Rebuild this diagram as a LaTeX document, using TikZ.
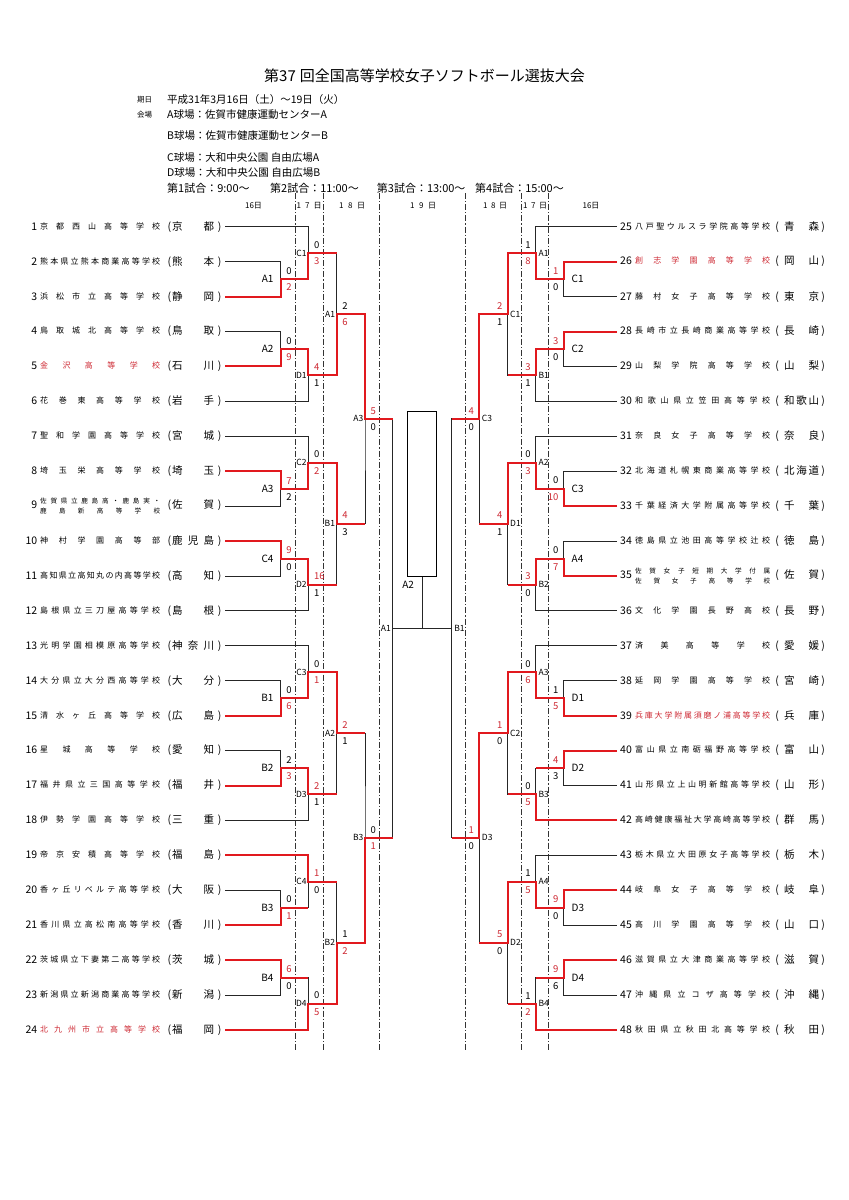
\documentclass[tikz,border=0pt]{standalone}
\usepackage{fontspec}
\setmainfont{Noto Sans CJK JP}
\usepackage{tikz}
\usetikzlibrary{calc}
\definecolor{winline}{RGB}{225,25,30}
\definecolor{wintext}{RGB}{205,40,50}

% row position of team i (may be fractional)
\newcommand\ry[1]{226.8+(#1-1)*34.92}
\newcommand\numf{\fontsize{10.5}{12}\selectfont}
\newcommand\namef{\fontsize{8}{9}\selectfont}
\newcommand\twof{\fontsize{6.6}{10}\selectfont}
\newcommand\preff{\fontsize{10.5}{12}\selectfont}
\newcommand\rs[1]{\textcolor{wintext}{#1}}
% spread the characters of a text over a given width
\def\spreadfirst#1{#1\spreadaux}
\def\spreadaux#1{\ifx#1\relax\else\hfill#1\expandafter\spreadaux\fi}
\newcommand\spreadtxt[2]{\hbox to #1{\expandafter\spreadfirst#2\relax}}
% team rows
\newcommand\tleft[4][black]{\hbox to 13pt{\hfil\numf #2}\hskip3pt\raisebox{1pt}{\namef\color{#1}\spreadtxt{120pt}{#3}}\preff\hbox to 12pt{\hfil(\hskip1pt}\spreadtxt{42pt}{#4}\hbox to 11pt{\hfil)\hfil}\hskip3pt}
\newcommand\tlefttwo[4]{\hbox to 13pt{\hfil\numf #1}\hskip3pt$\vcenter{\twof\hbox{\spreadtxt{120pt}{#2}}\hbox{\spreadtxt{120pt}{#3}}}$\preff\hbox to 12pt{\hfil(\hskip1pt}\spreadtxt{42pt}{#4}\hbox to 11pt{\hfil)\hfil}\hskip3pt}
\newcommand\tright[4][black]{\hskip3pt\hbox to 12pt{\numf #2\hfil}\hskip3pt\raisebox{1pt}{\namef\color{#1}\spreadtxt{135pt}{#3}}\preff\hbox to 14pt{\hfil(\hfil}\spreadtxt{35pt}{#4}\hbox to 8pt{\hfil)\hfil}}
\newcommand\trighttwo[4]{\hskip3pt\hbox to 12pt{\numf #1\hfil}\hskip3pt$\vcenter{\twof\hbox{\spreadtxt{135pt}{#2}}\hbox{\spreadtxt{135pt}{#3}}}$\preff\hbox to 14pt{\hfil(\hfil}\spreadtxt{35pt}{#4}\hbox to 8pt{\hfil)\hfil}}

\begin{document}
\begin{tikzpicture}[x=1pt, y=-1pt,
        bline/.style={black!85, line width=0.9pt},
        rline/.style={winline, line width=2pt},
        dayline/.style={black!80, line width=0.7pt, dash pattern=on 6pt off 2pt on 1.2pt off 2pt},
        team/.style={anchor=west, inner sep=0pt},
        head/.style={anchor=west, inner sep=0pt, font=\fontsize{10.5}{12}\selectfont},
        headS/.style={anchor=west, inner sep=0pt, font=\fontsize{7.5}{8}\selectfont},
        headT/.style={anchor=west, inner sep=0pt, font=\fontsize{11}{13}\selectfont},
        dayname/.style={inner sep=0pt, font=\fontsize{8}{9}\selectfont},
        labBL/.style={anchor=east, inner sep=0pt, xshift=-7pt, font=\fontsize{10}{12}\selectfont},
        labSL/.style={anchor=east, inner sep=0pt, xshift=-1.5pt, font=\fontsize{8.5}{10}\selectfont},
        labBR/.style={anchor=west, inner sep=0pt, xshift=8pt, font=\fontsize{10}{12}\selectfont},
        labSR/.style={anchor=west, inner sep=0pt, xshift=2.5pt, font=\fontsize{8.5}{10}\selectfont},
        supL/.style={anchor=south west, inner sep=0pt, xshift=5.5pt, yshift=4.5pt, font=\fontsize{9.5}{11}\selectfont},
        sdnL/.style={anchor=north west, inner sep=0pt, xshift=5.5pt, yshift=-4.5pt, font=\fontsize{9.5}{11}\selectfont},
        supR/.style={anchor=south east, inner sep=0pt, xshift=-5pt, yshift=4.5pt, font=\fontsize{9.5}{11}\selectfont},
        sdnR/.style={anchor=north east, inner sep=0pt, xshift=-5pt, yshift=-4.5pt, font=\fontsize{9.5}{11}\selectfont}
    ]
    \useasboundingbox (0,0) rectangle (849,1200);

    % header
    \node[head, font=\fontsize{15}{18}\selectfont] (title) at (264,75.8) {第37\hskip4pt 回全国高等学校女子ソフトボール選抜大会};
    \node[headS] (kijitsu) at (137,99.7) {期日};
    \node[head] (kikan) at (167,100) {平成31年3月16日（土）～19日（火）};
    \node[headS] (kaijo) at (137,115) {会場};
    \node[head] (fieldA) at (167,115) {A球場：佐賀市健康運動センターA};
    \node[head] (fieldB) at (167,136) {B球場：佐賀市健康運動センターB};
    \node[head] (fieldC) at (167,158) {C球場：大和中央公園 自由広場A};
    \node[head] (fieldD) at (167,172.7) {D球場：大和中央公園 自由広場B};
    \node[headT] (game1) at (167,188.3) {第1試合：9:00～};
    \node[headT] (game2) at (270,188.3) {第2試合：11:00～};
    \node[headT] (game3) at (376.7,188.3) {第3試合：13:00～};
    \node[headT] (game4) at (475,188.3) {第4試合：15:00～};

    % days
    \foreach \dx in {295.5,323.3,379.3,464.9,520.9,548.7}
        \draw[dayline] (\dx,193) -- (\dx,1052);
    \node[dayname] (d16L) at (253.5,205.8) {16日};
    \node[dayname] (d17L) at (309.2,205.8) {\spreadtxt{25pt}{17日}};
    \node[dayname] (d18L) at (352,205.8) {\spreadtxt{26pt}{18日}};
    \node[dayname] (d19) at (423,205.8) {\spreadtxt{26pt}{19日}};
    \node[dayname] (d18R) at (495,205.8) {\spreadtxt{24pt}{18日}};
    \node[dayname] (d17R) at (535,205.8) {\spreadtxt{24pt}{17日}};
    \node[dayname] (d16R) at (591,205.8) {16日};

    % teams, left
    \node[team] (t1) at (24,{\ry{1}}) {\tleft{1}{京都西山高等学校}{京都}};
    \node[team] (t2) at (24,{\ry{2}}) {\tleft{2}{熊本県立熊本商業高等学校}{熊本}};
    \node[team] (t3) at (24,{\ry{3}}) {\tleft{3}{浜松市立高等学校}{静岡}};
    \node[team] (t4) at (24,{\ry{4}}) {\tleft{4}{鳥取城北高等学校}{鳥取}};
    \node[team] (t5) at (24,{\ry{5}}) {\tleft[wintext]{5}{金沢高等学校}{石川}};
    \node[team] (t6) at (24,{\ry{6}}) {\tleft{6}{花巻東高等学校}{岩手}};
    \node[team] (t7) at (24,{\ry{7}}) {\tleft{7}{聖和学園高等学校}{宮城}};
    \node[team] (t8) at (24,{\ry{8}}) {\tleft{8}{埼玉栄高等学校}{埼玉}};
    \node[team] (t9) at (24,{\ry{9}}) {\tlefttwo{9}{佐賀県立鹿島高・鹿島実・}{鹿島新高等学校}{佐賀}};
    \node[team] (t10) at (24,{\ry{10}}) {\tleft{10}{神村学園高等部}{鹿児島}};
    \node[team] (t11) at (24,{\ry{11}}) {\tleft{11}{高知県立高知丸の内高等学校}{高知}};
    \node[team] (t12) at (24,{\ry{12}}) {\tleft{12}{島根県立三刀屋高等学校}{島根}};
    \node[team] (t13) at (24,{\ry{13}}) {\tleft{13}{光明学園相模原高等学校}{神奈川}};
    \node[team] (t14) at (24,{\ry{14}}) {\tleft{14}{大分県立大分西高等学校}{大分}};
    \node[team] (t15) at (24,{\ry{15}}) {\tleft{15}{清水ヶ丘高等学校}{広島}};
    \node[team] (t16) at (24,{\ry{16}}) {\tleft{16}{星城高等学校}{愛知}};
    \node[team] (t17) at (24,{\ry{17}}) {\tleft{17}{福井県立三国高等学校}{福井}};
    \node[team] (t18) at (24,{\ry{18}}) {\tleft{18}{伊勢学園高等学校}{三重}};
    \node[team] (t19) at (24,{\ry{19}}) {\tleft{19}{帝京安積高等学校}{福島}};
    \node[team] (t20) at (24,{\ry{20}}) {\tleft{20}{香ヶ丘リベルテ高等学校}{大阪}};
    \node[team] (t21) at (24,{\ry{21}}) {\tleft{21}{香川県立高松南高等学校}{香川}};
    \node[team] (t22) at (24,{\ry{22}}) {\tleft{22}{茨城県立下妻第二高等学校}{茨城}};
    \node[team] (t23) at (24,{\ry{23}}) {\tleft{23}{新潟県立新潟商業高等学校}{新潟}};
    \node[team] (t24) at (24,{\ry{24}}) {\tleft[wintext]{24}{北九州市立高等学校}{福岡}};

    % teams, right
    \node[team] (t25) at (617,{\ry{1}}) {\tright{25}{八戸聖ウルスラ学院高等学校}{青森}};
    \node[team] (t26) at (617,{\ry{2}}) {\tright[wintext]{26}{創志学園高等学校}{岡山}};
    \node[team] (t27) at (617,{\ry{3}}) {\tright{27}{藤村女子高等学校}{東京}};
    \node[team] (t28) at (617,{\ry{4}}) {\tright{28}{長崎市立長崎商業高等学校}{長崎}};
    \node[team] (t29) at (617,{\ry{5}}) {\tright{29}{山梨学院高等学校}{山梨}};
    \node[team] (t30) at (617,{\ry{6}}) {\tright{30}{和歌山県立笠田高等学校}{和歌山}};
    \node[team] (t31) at (617,{\ry{7}}) {\tright{31}{奈良女子高等学校}{奈良}};
    \node[team] (t32) at (617,{\ry{8}}) {\tright{32}{北海道札幌東商業高等学校}{北海道}};
    \node[team] (t33) at (617,{\ry{9}}) {\tright{33}{千葉経済大学附属高等学校}{千葉}};
    \node[team] (t34) at (617,{\ry{10}}) {\tright{34}{徳島県立池田高等学校辻校}{徳島}};
    \node[team] (t35) at (617,{\ry{11}}) {\trighttwo{35}{佐賀女子短期大学付属}{佐賀女子高等学校}{佐賀}};
    \node[team] (t36) at (617,{\ry{12}}) {\tright{36}{文化学園長野高校}{長野}};
    \node[team] (t37) at (617,{\ry{13}}) {\tright{37}{済美高等学校}{愛媛}};
    \node[team] (t38) at (617,{\ry{14}}) {\tright{38}{延岡学園高等学校}{宮崎}};
    \node[team] (t39) at (617,{\ry{15}}) {\tright[wintext]{39}{兵庫大学附属須磨ノ浦高等学校}{兵庫}};
    \node[team] (t40) at (617,{\ry{16}}) {\tright{40}{富山県立南砺福野高等学校}{富山}};
    \node[team] (t41) at (617,{\ry{17}}) {\tright{41}{山形県立上山明新館高等学校}{山形}};
    \node[team] (t42) at (617,{\ry{18}}) {\tright{42}{高崎健康福祉大学高崎高等学校}{群馬}};
    \node[team] (t43) at (617,{\ry{19}}) {\tright{43}{栃木県立大田原女子高等学校}{栃木}};
    \node[team] (t44) at (617,{\ry{20}}) {\tright{44}{岐阜女子高等学校}{岐阜}};
    \node[team] (t45) at (617,{\ry{21}}) {\tright{45}{高川学園高等学校}{山口}};
    \node[team] (t46) at (617,{\ry{22}}) {\tright{46}{滋賀県立大津商業高等学校}{滋賀}};
    \node[team] (t47) at (617,{\ry{23}}) {\tright{47}{沖縄県立コザ高等学校}{沖縄}};
    \node[team] (t48) at (617,{\ry{24}}) {\tright{48}{秋田県立秋田北高等学校}{秋田}};

    % matches, left: name/x/row/upper/lower/label/style/upper score/lower score
    \foreach \m/\x/\r/\u/\l/\lab/\st/\su/\sd in {
        l16A1/280.7/2.5/t2.east/t3.east/A1/labBL/0/\rs{2},
        l16A2/280.7/4.5/t4.east/t5.east/A2/labBL/0/\rs{9},
        l16A3/280.7/8.5/t8.east/t9.east/A3/labBL/\rs{7}/2,
        l16C4/280.7/10.5/t10.east/t11.east/C4/labBL/\rs{9}/0,
        l16B1/280.7/14.5/t14.east/t15.east/B1/labBL/0/\rs{6},
        l16B2/280.7/16.5/t16.east/t17.east/B2/labBL/2/\rs{3},
        l16B3/280.7/20.5/t20.east/t21.east/B3/labBL/0/\rs{1},
        l16B4/280.7/22.5/t22.east/t23.east/B4/labBL/\rs{6}/0,
        l17C1/308.3/1.75/t1.east/l16A1/C1/labSL/0/\rs{3},
        l17D1/308.3/5.25/l16A2/t6.east/D1/labSL/\rs{4}/1,
        l17C2/308.3/7.75/t7.east/l16A3/C2/labSL/0/\rs{2},
        l17D2/308.3/11.25/l16C4/t12.east/D2/labSL/\rs{16}/1,
        l17C3/308.3/13.75/t13.east/l16B1/C3/labSL/0/\rs{1},
        l17D3/308.3/17.25/l16B2/t18.east/D3/labSL/\rs{2}/1,
        l17C4/308.3/19.75/t19.east/l16B3/C4/labSL/\rs{1}/0,
        l17D4/308.3/23.25/l16B4/t24.east/D4/labSL/0/\rs{5},
        l18A1/336.7/3.5/l17C1/l17D1/A1/labSL/2/\rs{6},
        l18B1/336.7/9.5/l17C2/l17D2/B1/labSL/\rs{4}/3,
        l18A2/336.7/15.5/l17C3/l17D3/A2/labSL/\rs{2}/1,
        l18B2/336.7/21.5/l17C4/l17D4/B2/labSL/1/\rs{2},
        l18A3/365/6.5/l18A1/l18B1/A3/labSL/\rs{5}/0,
        l18B3/365/18.5/l18A2/l18B2/B3/labSL/0/\rs{1}}
    {
        \coordinate (\m) at (\x,{\ry{\r}});
        \draw[bline] (\u) -| (\m) |- (\l);
        \node[\st] at (\m) {\lab};
        \node[supL] at (\m) {\su};
        \node[sdnL] at (\m) {\sd};
    }

    % matches, right
    \foreach \m/\x/\r/\u/\l/\lab/\st/\su/\sd in {
        r16C1/563.5/2.5/t26.west/t27.west/C1/labBR/\rs{1}/0,
        r16C2/563.5/4.5/t28.west/t29.west/C2/labBR/\rs{3}/0,
        r16C3/563.5/8.5/t32.west/t33.west/C3/labBR/0/\rs{10},
        r16A4/563.5/10.5/t34.west/t35.west/A4/labBR/0/\rs{7},
        r16D1/563.5/14.5/t38.west/t39.west/D1/labBR/1/\rs{5},
        r16D2/563.5/16.5/t40.west/t41.west/D2/labBR/\rs{4}/3,
        r16D3/563.5/20.5/t44.west/t45.west/D3/labBR/\rs{9}/0,
        r16D4/563.5/22.5/t46.west/t47.west/D4/labBR/\rs{9}/6,
        r17A1/535.9/1.75/t25.west/r16C1/A1/labSR/1/\rs{8},
        r17B1/535.9/5.25/r16C2/t30.west/B1/labSR/\rs{3}/1,
        r17A2/535.9/7.75/t31.west/r16C3/A2/labSR/0/\rs{3},
        r17B2/535.9/11.25/r16A4/t36.west/B2/labSR/\rs{3}/0,
        r17A3/535.9/13.75/t37.west/r16D1/A3/labSR/0/\rs{6},
        r17B3/535.9/17.25/r16D2/t42.west/B3/labSR/0/\rs{5},
        r17A4/535.9/19.75/t43.west/r16D3/A4/labSR/1/\rs{5},
        r17B4/535.9/23.25/r16D4/t48.west/B4/labSR/1/\rs{2},
        r18C1/507.5/3.5/r17A1/r17B1/C1/labSR/\rs{2}/1,
        r18D1/507.5/9.5/r17A2/r17B2/D1/labSR/\rs{4}/1,
        r18C2/507.5/15.5/r17A3/r17B3/C2/labSR/\rs{1}/0,
        r18D2/507.5/21.5/r17A4/r17B4/D2/labSR/\rs{5}/0,
        r18C3/479.2/6.5/r18C1/r18D1/C3/labSR/\rs{4}/0,
        r18D3/479.2/18.5/r18C2/r18D2/D3/labSR/\rs{1}/0}
    {
        \coordinate (\m) at (\x,{\ry{\r}});
        \draw[bline] (\u) -| (\m) |- (\l);
        \node[\st] at (\m) {\lab};
        \node[supR] at (\m) {\su};
        \node[sdnR] at (\m) {\sd};
    }

    % semifinals and final
    \coordinate (l19A1) at (392.5,{\ry{12.5}});
    \coordinate (r19B1) at (451.7,{\ry{12.5}});
    \draw[bline] (l18A3) -| (l19A1) |- (l18B3);
    \draw[bline] (r18C3) -| (r19B1) |- (r18D3);
    \node[labSL] at (l19A1) {A1};
    \node[labSR] at (r19B1) {B1};
    \node[draw, line width=0.9pt, minimum width=29.4pt, minimum height=165.7pt, inner sep=0pt] (champ) at (422.1,493.85) {};
    \draw[bline] (l19A1) -- (r19B1);
    \draw[bline] (champ.south) -- (champ.south |- l19A1);
    \node[anchor=north east, inner sep=0pt, font=\fontsize{10}{12}\selectfont] (finlab) at ([xshift=-8pt,yshift=-3.5pt]champ.south) {A2};

    % winners, left
    \draw[rline] (t3.east) -| (l16A1) -| (l17C1) -- (l17C1 -| l18A1);
    \draw[rline] (t5.east) -| (l16A2) -| (l17D1) -| (l18A1) -| (l18A3) -- (l18A3 -| l19A1);
    \draw[rline] (t8.east) -| (l16A3) -| (l17C2) -| (l18B1) -- (l18B1 -| l18A3);
    \draw[rline] (t10.east) -| (l16C4) -| (l17D2) -- (l17D2 -| l18B1);
    \draw[rline] (t15.east) -| (l16B1) -| (l17C3) -| (l18A2) -- (l18A2 -| l18B3);
    \draw[rline] (t17.east) -| (l16B2) -| (l17D3) -- (l17D3 -| l18A2);
    \draw[rline] (t19.east) -| (l17C4) -- (l17C4 -| l18B2);
    \draw[rline] (t21.east) -| (l16B3) -- (l16B3 -| l17C4);
    \draw[rline] (t22.east) -| (l16B4) -- (l16B4 -| l17D4);
    \draw[rline] (t24.east) -| (l17D4) -| (l18B2) -| (l18B3) -- (l18B3 -| l19A1);

    % winners, right
    \draw[rline] (t26.west) -| (r16C1) -| (r17A1) -| (r18C1) -| (r18C3) -- (r18C3 -| r19B1);
    \draw[rline] (t28.west) -| (r16C2) -| (r17B1) -- (r17B1 -| r18C1);
    \draw[rline] (t33.west) -| (r16C3) -| (r17A2) -| (r18D1) -- (r18D1 -| r18C3);
    \draw[rline] (t35.west) -| (r16A4) -| (r17B2) -- (r17B2 -| r18D1);
    \draw[rline] (t39.west) -| (r16D1) -| (r17A3) -| (r18C2) -| (r18D3) -- (r18D3 -| r19B1);
    \draw[rline] (t40.west) -| (r16D2) -- (r16D2 -| r17B3);
    \draw[rline] (t42.west) -| (r17B3) -- (r17B3 -| r18C2);
    \draw[rline] (t44.west) -| (r16D3) -| (r17A4) -| (r18D2) -- (r18D2 -| r18D3);
    \draw[rline] (t46.west) -| (r16D4) -- (r16D4 -| r17B4);
    \draw[rline] (t48.west) -| (r17B4) -- (r17B4 -| r18D2);
\end{tikzpicture}
\end{document}
